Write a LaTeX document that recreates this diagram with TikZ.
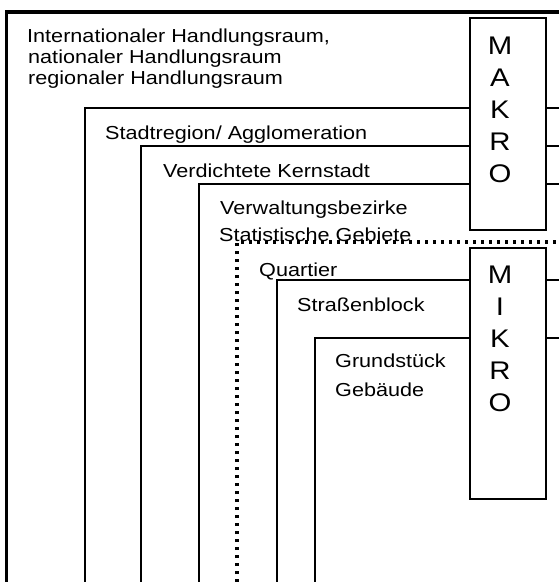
\documentclass[tikz,border=0pt]{standalone}
\usepackage{fontspec}
\setmainfont{Liberation Sans}[FakeStretch=1.15]
\tikzset{
  outerframe/.style={line width=3.5pt, line cap=butt, line join=miter},
  frame/.style={line width=2pt, line cap=butt, line join=miter},
  quarterframe/.style={line width=3.3pt, line cap=butt, dash pattern=on 3.3pt off 4.7pt},
  levelbox/.style={draw, fill=white, line width=2pt, inner sep=0pt, anchor=north west,
    minimum width=76pt},
  lbl/.style={anchor=base west, inner sep=0pt, font=\fontsize{18.8}{22}\selectfont},
  letter/.style={anchor=base, inner sep=0pt, font=\fontsize{25.5}{30}\selectfont}
}
\begin{document}
\begin{tikzpicture}[x=1pt, y=-1pt]
  \useasboundingbox (0,0) rectangle (559,582);

  % nested spatial levels, each open to the right and bottom
  \draw[outerframe] (6.5,582) -- (6.5,12) -- (559,12);
  \draw[frame] (85,582) -- (85,108) -- (559,108);
  \draw[frame] (141,582) -- (141,146) -- (559,146);
  \draw[frame] (199,582) -- (199,184) -- (559,184);
  \draw[frame] (277,582) -- (277,280) -- (559,280);
  \draw[frame] (315,582) -- (315,338) -- (559,338);

  % level names
  \node[lbl] (intl) at (27,42) {Internationaler Handlungsraum,};
  \node[lbl] (natl) at (28,63) {nationaler Handlungsraum};
  \node[lbl] (regl) at (28,84) {regionaler Handlungsraum};
  \node[lbl] (stadtregion) at (105,139) {Stadtregion/ Agglomeration};
  \node[lbl] (kernstadt) at (163,177) {Verdichtete Kernstadt};
  \node[lbl] (bezirke) at (220,214) {Verwaltungsbezirke};
  \node[lbl] (gebiete) at (219,241) {Statistische Gebiete};
  \node[lbl] (quartier) at (259,276) {Quartier};
  \node[lbl] (block) at (297,311) {Straßenblock};
  \node[lbl] (grund) at (335,367) {Grundstück};
  \node[lbl] (gebaeude) at (335,396) {Gebäude};

  % dotted boundary of the district level
  \draw[quarterframe] (237,582) -- (237,242) -- (559,242);

  % macro and micro scale bars
  \node[levelbox, minimum height=212pt] (makro) at (469,17) {};
  \node[levelbox, minimum height=251pt] (mikro) at (469,247) {};

  \foreach \ch [count=\i] in {M,A,K,R,O}
    \node[letter] (makro-\i) at (500,{54+32*(\i-1)}) {\ch};
  \foreach \ch [count=\i] in {M,I,K,R,O}
    \node[letter] (mikro-\i) at (500,{283+32*(\i-1)}) {\ch};
\end{tikzpicture}
\end{document}
